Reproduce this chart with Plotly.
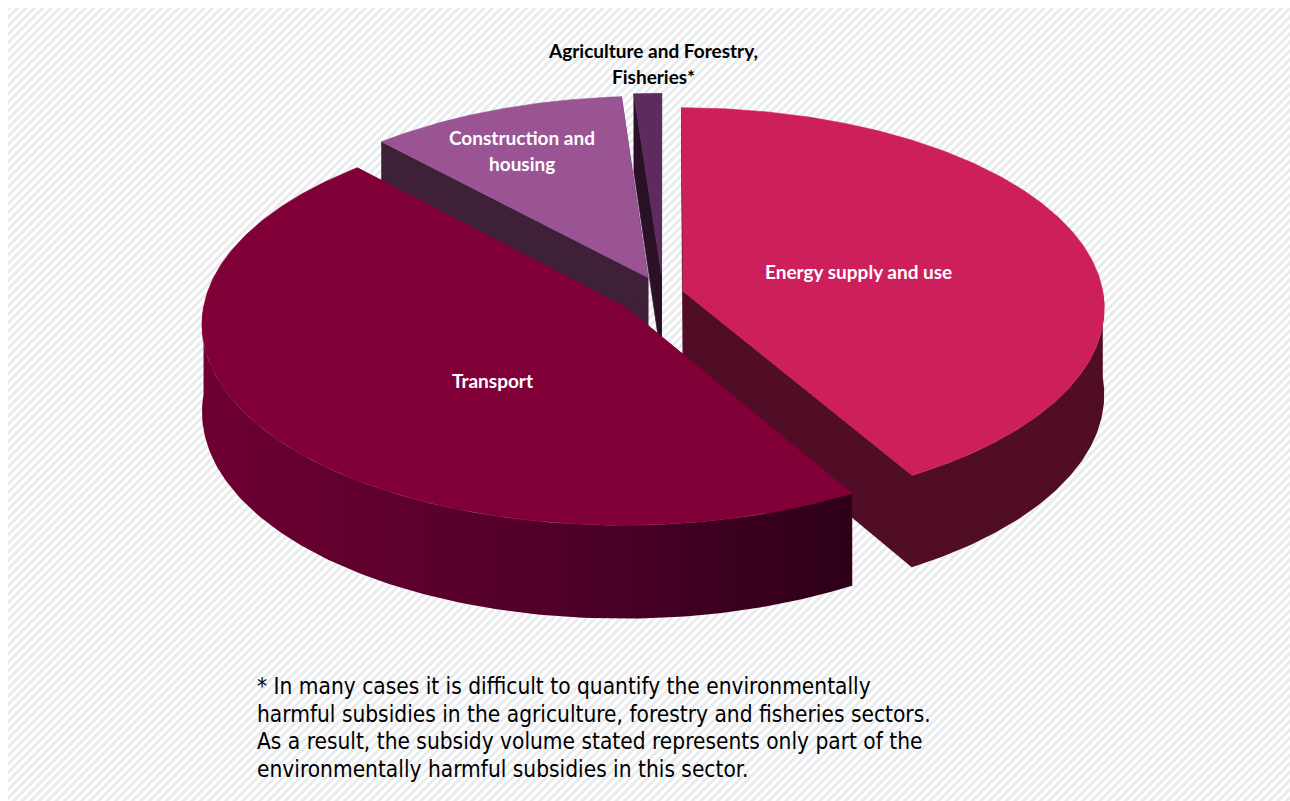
import numpy as np
import plotly.graph_objects as go

# Environmentally harmful subsidies by sector (bn EUR)
sectors = ["Energy supply and use", "Transport", "Construction and housing",
           "Agriculture and Forestry, Fisheries*"]
subsidies = [21.6, 24.2, 5.6, 0.6]

top_colors = ["#cc1f5c", "#820038", "#9a5494", "#5f2b5e"]
side_colors = ["#520d26", "#5a0029", "#3f2039", "#2a1128"]
explode = [0.05, 0.11, 0.09, 0.10]

footnote_lines = [
    "* In many cases it is difficult to quantify the environmentally",
    "harmful subsidies in the agriculture, forestry and fisheries sectors.",
    "As a result, the subsidy volume stated represents only part of the",
    "environmentally harmful subsidies in this sector.",
]

# pseudo-3D pie geometry (pixel space)
CX, CY = 663, 294
RX, RY = 420, 200
PERSP = 0.08
DEPTH = 86


def project(px, py, bottom=False):
    s = 1 + PERSP * py
    X = CX + px * RX * s
    Y = CY + py * RY * s + (DEPTH * s if bottom else 0)
    return X, Y


def rim(theta_deg, off):
    t = np.radians(theta_deg)
    return off[0] + np.sin(t), off[1] - np.cos(t)


fig = go.Figure()

# hatched backdrop
fig.add_trace(go.Scatter(
    x=[8, 1290, 1290, 8, 8], y=[8, 8, 801, 801, 8], mode="lines",
    fill="toself", line=dict(width=0),
    fillcolor="white",
    fillpattern=dict(shape="/", fgcolor="#d3d6d9", bgcolor="white",
                     size=6, solidity=0.5),
    hoverinfo="skip"))

total = sum(subsidies)
bounds = np.concatenate([[0], np.cumsum(subsidies) / total * 360])

slices = []
for i in range(len(subsidies)):
    a0, a1 = bounds[i], bounds[i + 1]
    mid = np.radians((a0 + a1) / 2)
    off = (explode[i] * np.sin(mid), -explode[i] * np.cos(mid))
    slices.append((a0, a1, off))

# painter's order: back slices first
draw_order = [2, 3, 0, 1]
for i in draw_order:
    a0, a1, off = slices[i]
    tipx, tipy = project(*off)
    tipbx, tipby = project(*off, bottom=True)

    # radial walls
    wx, wy = [], []
    for a in (a0, a1):
        p = rim(a, off)
        rx_, ry_ = project(*p)
        bx_, by_ = project(*p, bottom=True)
        wx += [tipx, rx_, bx_, tipbx, tipx, None]
        wy += [tipy, ry_, by_, tipby, tipy, None]
    fig.add_trace(go.Scatter(x=wx, y=wy, mode="lines", fill="toself",
                             fillcolor=side_colors[i],
                             line=dict(width=0.6, color=side_colors[i]),
                             hoverinfo="skip"))

    # outer curved wall (front-facing part only)
    c0, c1 = max(a0, 90), min(a1, 270)
    if c1 > c0:
        th = np.linspace(c0, c1, 120)
        pts = [rim(t, off) for t in th]
        top = [project(*p) for p in pts]
        bot = [project(*p, bottom=True) for p in pts]
        xs = [q[0] for q in top] + [q[0] for q in bot[::-1]]
        ys = [q[1] for q in top] + [q[1] for q in bot[::-1]]
        xs.append(xs[0])
        ys.append(ys[0])
        kw = dict(fillcolor=side_colors[i])
        if i == 1:
            kw = dict(fillgradient=dict(type="horizontal",
                                        colorscale=[[0, "#6e0031"], [0.55, "#50002a"],
                                                    [1, "#2e0018"]]))
        fig.add_trace(go.Scatter(x=xs, y=ys, mode="lines", fill="toself",
                                 line=dict(width=0), hoverinfo="skip", **kw))

    # top face
    th = np.linspace(a0, a1, 240)
    top = [project(*rim(t, off)) for t in th]
    xs = [tipx] + [q[0] for q in top] + [tipx]
    ys = [tipy] + [q[1] for q in top] + [tipy]
    fig.add_trace(go.Scatter(x=xs, y=ys, mode="lines", fill="toself",
                             fillcolor=top_colors[i],
                             line=dict(width=0.6, color=top_colors[i]),
                             hoverinfo="skip"))

label_font = dict(family="Lato", size=19, color="white", weight="bold")
annotations = [
    dict(x=858, y=271, text=sectors[0], font=label_font),
    dict(x=492, y=380, text=sectors[1], font=label_font),
    dict(x=522, y=137, text="Construction and", font=label_font),
    dict(x=522, y=163, text="housing", font=label_font),
    dict(x=653, y=50, text="Agriculture and Forestry,",
         font=dict(label_font, color="black")),
    dict(x=653, y=76, text="Fisheries*", font=dict(label_font, color="black")),
]
for k, line in enumerate(footnote_lines):
    annotations.append(dict(
        x=255, y=686 + k * 27.5, text=line, xanchor="left",
        font=dict(family="'Liberation Sans Narrow', 'DejaVu Sans Condensed', 'Liberation Sans', Arial, sans-serif",
                  size=22.5, color="black")))
for a in annotations:
    a.update(xref="x", yref="y", showarrow=False)

fig.update_layout(
    width=1290, height=801,
    margin=dict(l=0, r=0, t=0, b=0),
    paper_bgcolor="white", plot_bgcolor="white",
    showlegend=False, hovermode=False,
    xaxis=dict(range=[0, 1290], visible=False, fixedrange=True),
    yaxis=dict(range=[801, 0], visible=False, fixedrange=True),
    annotations=annotations,
)

fig.write_html("out.html")
